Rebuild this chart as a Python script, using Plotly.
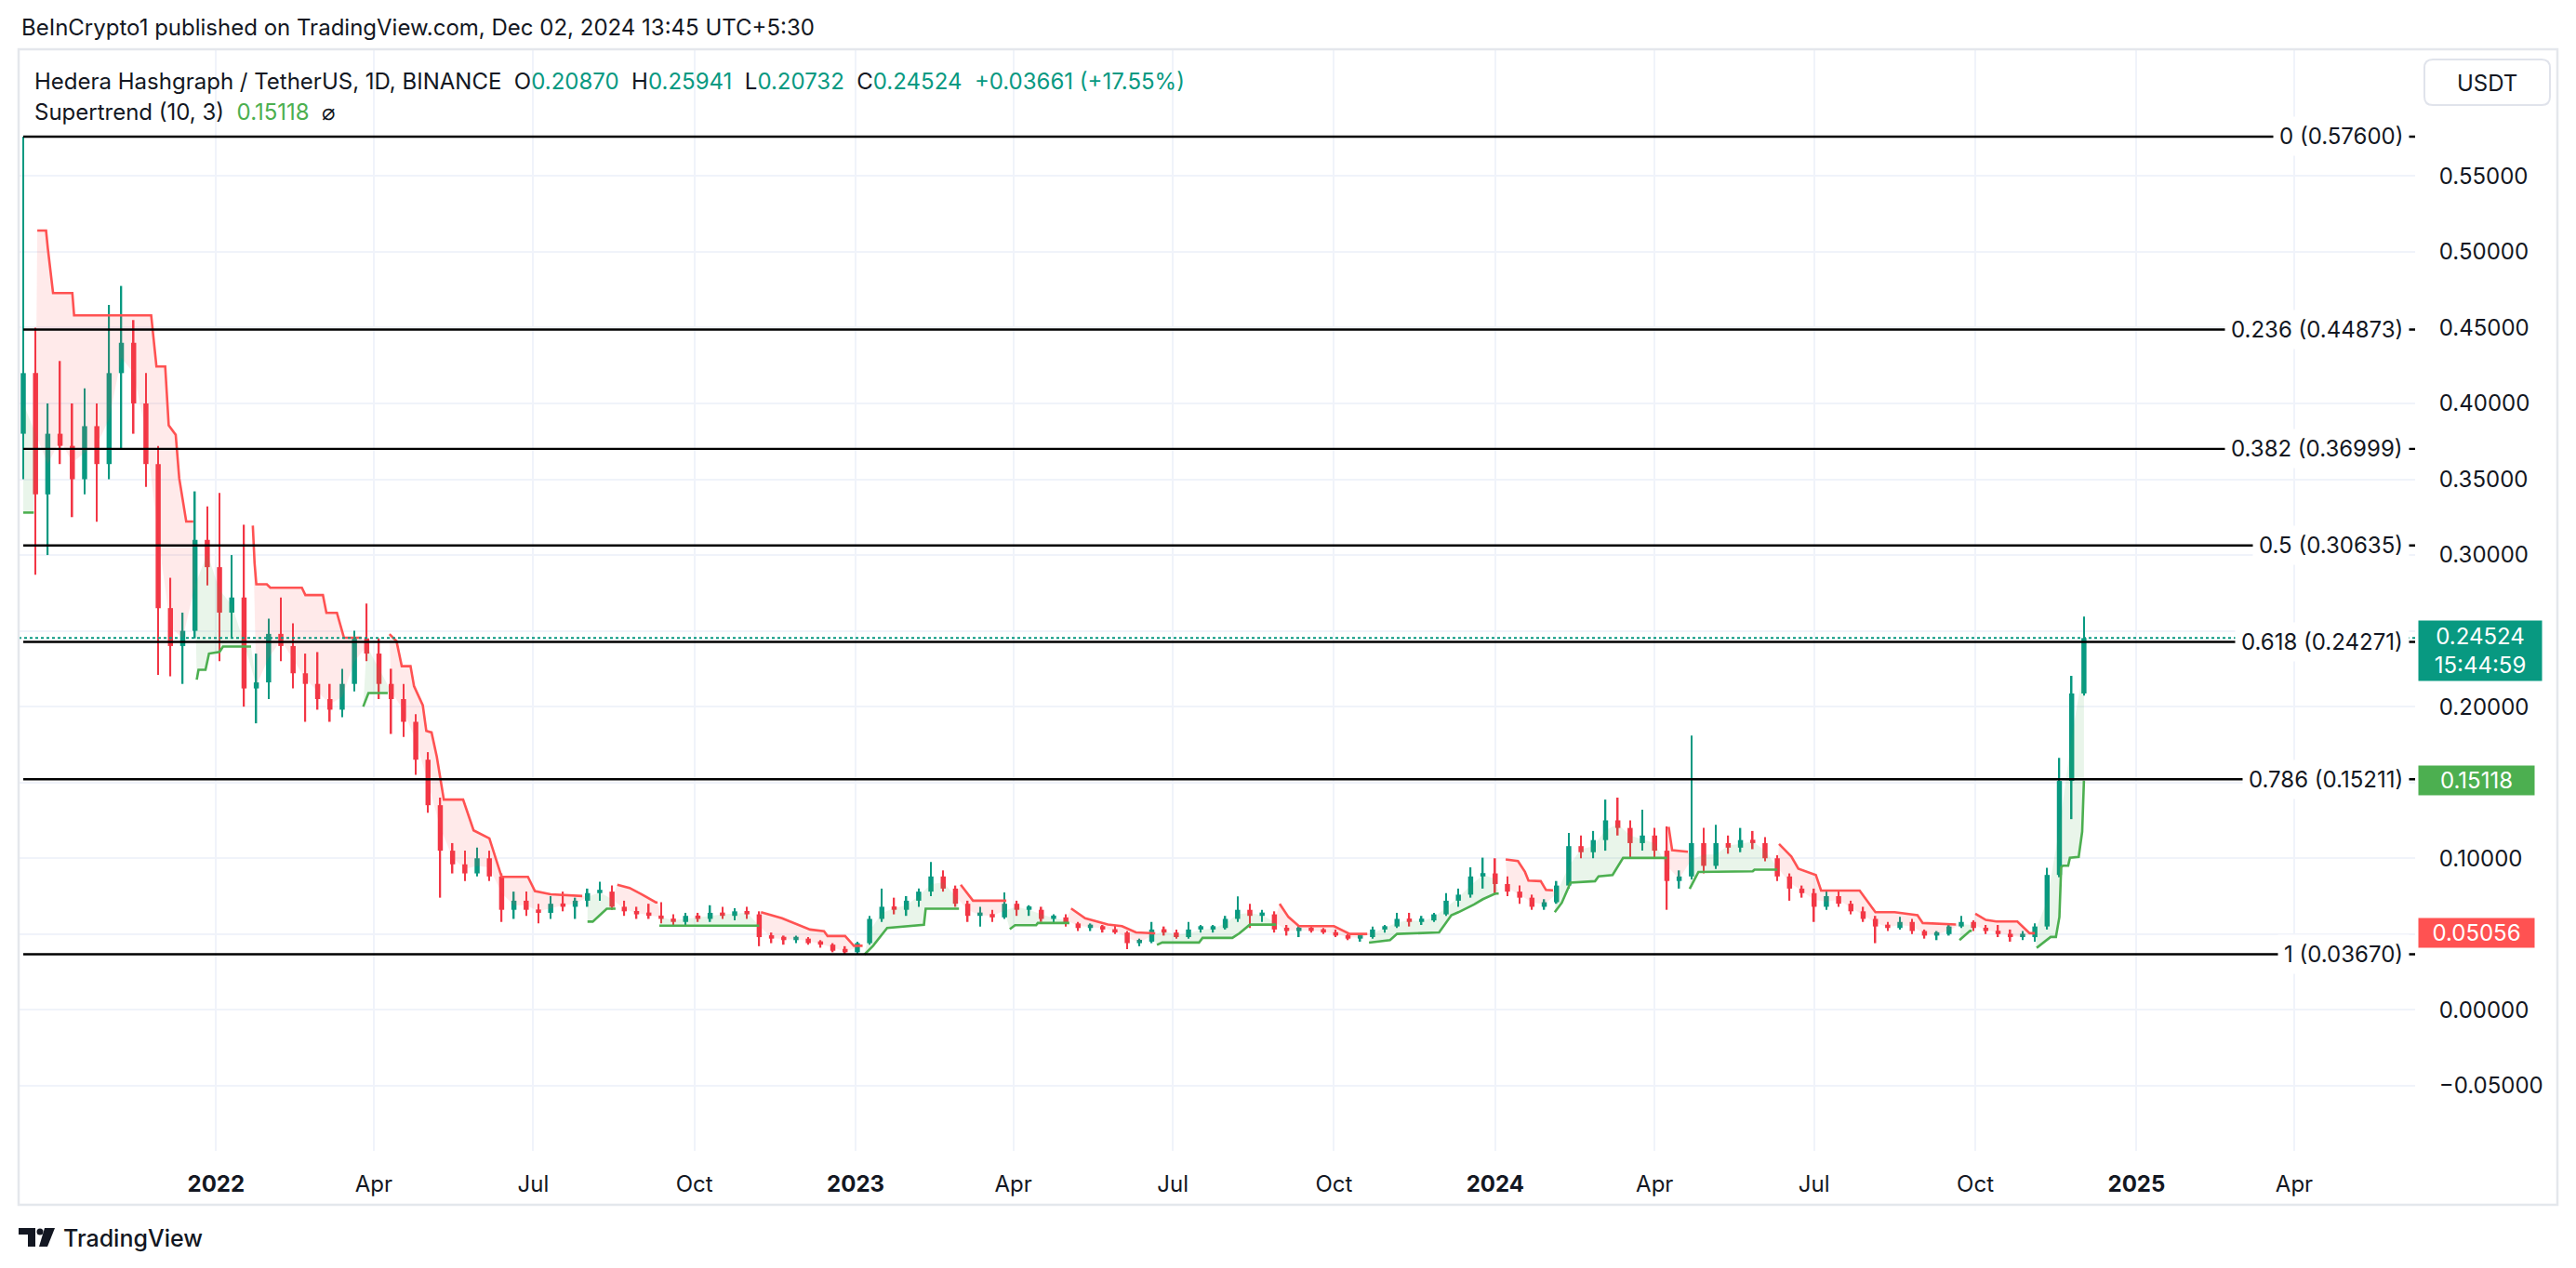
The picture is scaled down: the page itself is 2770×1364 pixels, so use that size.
import plotly.graph_objects as go
import pandas as pd
import numpy as np

# ---------------- data (weekly candles) ----------------
first_week = "2021-09-13"
opens = [0.380,0.420,0.340,0.380,0.372,0.350,0.385,0.360,0.420,0.440,0.400,0.360,0.265,0.240,0.250,0.310,
         0.292,0.262,0.272,0.212,0.216,0.248,0.240,0.222,0.215,0.205,0.198,0.215,0.245,0.235,0.215,0.205,
         0.190,0.165,0.135,0.105,0.096,0.090,0.100,0.088,0.066,0.072,0.066,0.064,0.070,0.068,0.072,0.077,
         0.078,0.068,0.065,0.063,0.062,0.060,0.058,0.062,0.060,0.064,0.062,0.065,0.063,0.048,0.047,0.046,
         0.047,0.044,0.043,0.039,0.038,0.044,0.060,0.068,0.066,0.072,0.078,0.088,0.080,0.070,0.062,0.063,
         0.061,0.070,0.066,0.066,0.060,0.061,0.057,0.054,0.055,0.053,0.051,0.044,0.045,0.053,0.051,0.048,
         0.053,0.053,0.054,0.060,0.066,0.062,0.063,0.053,0.052,0.053,0.052,0.051,0.049,0.047,0.048,0.053,
         0.055,0.060,0.058,0.059,0.063,0.072,0.076,0.088,0.090,0.083,0.078,0.074,0.068,0.071,0.082,0.108,
         0.104,0.112,0.125,0.120,0.110,0.115,0.105,0.085,0.088,0.110,0.095,0.110,0.107,0.112,0.110,0.100,
         0.088,0.080,0.077,0.068,0.075,0.070,0.065,0.060,0.055,0.054,0.058,0.052,0.049,0.050,0.055,0.058,
         0.054,0.052,0.050,0.048,0.048,0.055,0.089,0.151,0.20870]
highs = [0.576,0.450,0.400,0.428,0.400,0.410,0.400,0.465,0.4775,0.455,0.420,0.372,0.285,0.262,0.342,0.332,
         0.341,0.300,0.320,0.235,0.258,0.272,0.255,0.235,0.236,0.215,0.225,0.250,0.268,0.245,0.225,0.215,
         0.195,0.170,0.140,0.110,0.105,0.107,0.105,0.090,0.078,0.078,0.070,0.075,0.078,0.074,0.080,0.0845,
         0.082,0.072,0.068,0.070,0.071,0.063,0.064,0.064,0.069,0.068,0.067,0.068,0.065,0.051,0.049,0.049,
         0.048,0.046,0.044,0.042,0.045,0.062,0.080,0.074,0.075,0.080,0.0975,0.092,0.082,0.072,0.068,0.066,
         0.0775,0.072,0.069,0.068,0.063,0.063,0.058,0.057,0.056,0.056,0.052,0.047,0.058,0.055,0.053,0.058,
         0.056,0.056,0.062,0.0748,0.070,0.066,0.065,0.056,0.056,0.056,0.054,0.053,0.050,0.049,0.055,0.056,
         0.064,0.064,0.062,0.064,0.077,0.080,0.094,0.1004,0.100,0.088,0.082,0.076,0.073,0.085,0.1167,0.115,
         0.118,0.1387,0.140,0.125,0.132,0.120,0.121,0.092,0.181,0.120,0.122,0.115,0.120,0.118,0.114,0.102,
         0.090,0.082,0.080,0.079,0.079,0.072,0.068,0.062,0.058,0.0614,0.060,0.053,0.052,0.057,0.062,0.059,
         0.056,0.056,0.053,0.052,0.057,0.0937,0.1662,0.2203,0.25941]
lows = [0.350,0.287,0.300,0.360,0.325,0.340,0.322,0.350,0.370,0.380,0.345,0.221,0.220,0.215,0.245,0.280,
        0.230,0.245,0.200,0.189,0.205,0.230,0.212,0.190,0.198,0.190,0.193,0.210,0.230,0.205,0.182,0.180,
        0.155,0.130,0.074,0.090,0.085,0.088,0.085,0.058,0.060,0.062,0.057,0.060,0.065,0.060,0.068,0.072,
        0.066,0.062,0.060,0.060,0.057,0.056,0.056,0.058,0.058,0.060,0.059,0.060,0.042,0.044,0.043,0.044,
        0.043,0.041,0.038,0.0367,0.037,0.043,0.058,0.063,0.062,0.068,0.075,0.078,0.068,0.058,0.055,0.058,
        0.060,0.062,0.062,0.058,0.057,0.055,0.052,0.052,0.051,0.050,0.040,0.042,0.044,0.049,0.047,0.047,
        0.051,0.051,0.053,0.058,0.054,0.058,0.051,0.049,0.048,0.051,0.050,0.048,0.046,0.045,0.047,0.051,
        0.054,0.055,0.056,0.058,0.062,0.068,0.074,0.080,0.076,0.075,0.070,0.066,0.066,0.070,0.080,0.100,
        0.100,0.105,0.115,0.100,0.105,0.100,0.066,0.080,0.086,0.090,0.093,0.103,0.104,0.106,0.098,0.085,
        0.072,0.074,0.058,0.066,0.068,0.063,0.058,0.044,0.052,0.053,0.050,0.047,0.046,0.049,0.054,0.052,
        0.050,0.048,0.045,0.046,0.045,0.053,0.0875,0.1258,0.20732]
closes = [0.420,0.340,0.380,0.372,0.350,0.385,0.360,0.420,0.440,0.400,0.360,0.265,0.240,0.250,0.310,0.292,
          0.262,0.272,0.212,0.216,0.248,0.240,0.222,0.215,0.205,0.198,0.215,0.245,0.235,0.215,0.205,0.190,
          0.165,0.135,0.105,0.096,0.090,0.100,0.088,0.066,0.072,0.066,0.064,0.070,0.068,0.072,0.077,0.078,
          0.068,0.065,0.063,0.062,0.060,0.058,0.062,0.060,0.064,0.062,0.065,0.063,0.048,0.047,0.046,0.047,
          0.044,0.043,0.039,0.038,0.044,0.060,0.068,0.066,0.072,0.078,0.088,0.080,0.070,0.062,0.063,0.061,
          0.070,0.066,0.066,0.060,0.061,0.057,0.054,0.055,0.053,0.051,0.044,0.045,0.053,0.051,0.048,0.053,
          0.053,0.054,0.060,0.066,0.062,0.063,0.053,0.052,0.053,0.052,0.051,0.049,0.047,0.048,0.053,0.055,
          0.060,0.058,0.059,0.063,0.072,0.076,0.088,0.090,0.083,0.078,0.074,0.068,0.071,0.082,0.108,0.104,
          0.112,0.125,0.120,0.110,0.115,0.105,0.085,0.088,0.110,0.095,0.110,0.107,0.112,0.110,0.100,0.088,
          0.080,0.077,0.068,0.075,0.070,0.065,0.060,0.055,0.054,0.058,0.052,0.049,0.050,0.055,0.058,0.054,
          0.052,0.050,0.048,0.048,0.055,0.089,0.151,0.20870,0.24524]

# Supertrend (10, 3) line
st_dates = ["2021-09-13","2021-09-19",
  "2021-09-21","2021-09-26","2021-09-27","2021-09-30","2021-10-11","2021-10-12","2021-11-25","2021-11-28",
  "2021-12-03","2021-12-05","2021-12-09","2021-12-11","2021-12-15","2021-12-19",
  "2021-12-21","2021-12-22","2021-12-26","2021-12-28","2022-01-03","2022-01-05","2022-01-21",
  "2022-01-22","2022-01-23","2022-01-24","2022-01-30","2022-02-01","2022-02-19","2022-02-21","2022-03-03",
  "2022-03-05","2022-03-11","2022-03-15","2022-03-25",
  "2022-03-26","2022-03-29","2022-04-09",
  "2022-04-10","2022-04-14","2022-04-17","2022-04-22","2022-04-24","2022-04-29","2022-05-01","2022-05-04",
  "2022-05-07","2022-05-11","2022-05-22","2022-05-28","2022-06-06","2022-06-13","2022-06-28","2022-07-02",
  "2022-07-11","2022-07-29",
  "2022-08-01","2022-08-04","2022-08-12","2022-08-17",
  "2022-08-18","2022-08-25","2022-09-01","2022-09-09","2022-09-10",
  "2022-09-11","2022-11-07",
  "2022-11-08","2022-11-20","2022-12-06","2022-12-14","2022-12-16","2022-12-26","2022-12-31","2023-01-05",
  "2023-01-06","2023-01-11","2023-01-19","2023-02-09","2023-02-10","2023-03-01",
  "2023-03-02","2023-03-09","2023-03-28",
  "2023-03-30","2023-04-02","2023-04-14","2023-04-15","2023-05-03",
  "2023-05-04","2023-05-12","2023-05-25","2023-06-02","2023-06-10","2023-06-21",
  "2023-06-22","2023-06-25","2023-07-16","2023-07-18","2023-08-04","2023-08-08","2023-08-14","2023-08-29",
  "2023-08-31","2023-09-05","2023-09-11","2023-10-01","2023-10-10","2023-10-20",
  "2023-10-21","2023-11-02","2023-11-06","2023-11-30","2023-12-07","2023-12-11","2023-12-20","2023-12-25",
  "2024-01-01","2024-01-03",
  "2024-01-07","2024-01-14","2024-01-18","2024-01-20","2024-01-27","2024-01-30","2024-02-03",
  "2024-02-04","2024-02-08","2024-02-13","2024-02-27","2024-02-29","2024-03-08","2024-03-14","2024-04-08",
  "2024-04-09","2024-04-11","2024-04-20",
  "2024-04-21","2024-04-26","2024-05-27","2024-05-28","2024-06-10",
  "2024-06-11","2024-06-18","2024-06-22","2024-07-02","2024-07-05","2024-07-27","2024-08-05","2024-08-16",
  "2024-08-29","2024-09-01","2024-09-20",
  "2024-09-22","2024-09-28","2024-09-29",
  "2024-10-01","2024-10-07","2024-10-13","2024-10-25","2024-11-01","2024-11-04",
  "2024-11-05","2024-11-13","2024-11-16","2024-11-18","2024-11-19","2024-11-20","2024-11-23","2024-11-24",
  "2024-11-29","2024-12-01","2024-12-02"]
st_values = [0.328,0.328,
  0.514,0.514,0.5025,0.4728,0.4728,0.4581,0.4581,0.4244,
  0.4244,0.3855,0.3793,0.3507,0.3221,0.3221,
  0.2178,0.2243,0.2243,0.235,0.2361,0.2396,0.2396,
  0.3194,0.2948,0.2807,0.2807,0.2784,0.2784,0.2736,0.2736,
  0.2619,0.2619,0.2455,0.2455,
  0.200,0.209,0.209,
  0.2478,0.2432,0.2267,0.2267,0.2135,0.2009,0.184,0.183,
  0.167,0.1387,0.1387,0.1184,0.1131,0.0877,0.0877,0.0783,
  0.0762,0.0751,
  0.0582,0.0582,0.0667,0.0667,
  0.0825,0.0804,0.0762,0.0709,0.0709,
  0.0555,0.0555,
  0.0645,0.0604,0.0530,0.0519,0.0487,0.0487,0.0423,0.0423,
  0.0365,0.0423,0.0540,0.0561,0.0667,0.0667,
  0.0825,0.0720,0.0720,
  0.0532,0.0558,0.0558,0.0573,0.0573,
  0.0669,0.0604,0.0563,0.0552,0.0511,0.0505,
  0.0429,0.0444,0.0444,0.0475,0.0475,0.0505,0.0562,0.0562,
  0.0700,0.0613,0.0552,0.0552,0.0501,0.0501,
  0.0444,0.0460,0.0501,0.0511,0.0624,0.0644,0.0695,0.0730,
  0.0767,0.0767,
  0.0992,0.0982,0.0910,0.0853,0.0849,0.0791,0.0788,
  0.0644,0.0706,0.0839,0.0849,0.0880,0.0890,0.1002,0.1002,
  0.1207,0.1053,0.1043,
  0.0798,0.0910,0.0914,0.0925,0.0925,
  0.1094,0.1012,0.0931,0.0890,0.0787,0.0787,0.0644,0.0644,
  0.0624,0.0573,0.0563,
  0.0460,0.0521,0.0521,
  0.0634,0.0593,0.0583,0.0583,0.05056,0.05056,
  0.0409,0.0481,0.0481,0.0613,0.0941,0.0951,0.0951,0.1003,
  0.1009,0.1176,0.15118]
st_trend = (["up"]*2 + ["down"]*14 + ["up"]*7 + ["down"]*12 + ["up"]*3 + ["down"]*18 + ["up"]*4 +
            ["down"]*5 + ["up"]*2 + ["down"]*8 + ["up"]*6 + ["down"]*3 + ["up"]*5 + ["down"]*6 +
            ["up"]*8 + ["down"]*6 + ["up"]*10 + ["down"]*7 + ["up"]*8 + ["down"]*3 + ["up"]*5 +
            ["down"]*11 + ["up"]*3 + ["down"]*6 + ["up"]*11)

fib_ratios = [0, 0.236, 0.382, 0.5, 0.618, 0.786, 1]
fib_prices = [0.57600, 0.44873, 0.36999, 0.30635, 0.24271, 0.15211, 0.03670]

tick_dates = ["2022-01-01","2022-04-01","2022-07-01","2022-10-01","2023-01-01","2023-04-01","2023-07-01",
              "2023-10-01","2024-01-01","2024-04-01","2024-07-01","2024-10-01","2025-01-01","2025-04-01"]
tick_labels = ["<b>2022</b>","Apr","Jul","Oct","<b>2023</b>","Apr","Jul","Oct","<b>2024</b>","Apr","Jul","Oct",
               "<b>2025</b>","Apr"]
price_ticks = [-0.05,0.0,0.05,0.10,0.15,0.20,0.25,0.30,0.35,0.40,0.45,0.50,0.55]
hidden_price_ticks = [0.05, 0.15, 0.25]
st_down_last = 0.05056
change_abs, change_pct = 0.03661, 17.55
countdown = "15:44:59"

# ---------------- styling ----------------
UP, DN = "#089981", "#F23645"
ST_UP, ST_DN = "#4CAF50", "#FF5252"
TXT = "#131722"
GRID = "#f0f3fa"
FONT = "Inter"
FS = 24
W, H = 2770, 1364
PL, PR, PT, PB = 20, 2597, 53, 1238
X_RANGE = ["2021-09-10 08:00", "2025-06-09"]
Y_RANGE = [-0.093, 0.6336]

def px(x):
    return (x - PL) / (PR - PL)

def py(y):
    return (PB - y) / (PB - PT)

dates = pd.date_range(first_week, periods=len(closes), freq="7D")
o = np.array(opens); h = np.array(highs); l = np.array(lows); c = np.array(closes)
colors = [UP if cc >= oo else DN for oo, cc in zip(o, c)]
DAY = 86400000

fig = go.Figure()

# Supertrend fills + lines
segs = []
for d, v, t in zip(st_dates, st_values, st_trend):
    if not segs or segs[-1]["t"] != t:
        segs.append({"t": t, "d": [], "v": []})
    segs[-1]["d"].append(pd.Timestamp(d))
    segs[-1]["v"].append(v)

for s in segs:
    lo = s["d"][0] - pd.Timedelta(days=3)
    hi = s["d"][-1] + pd.Timedelta(days=3)
    idx = [i for i, d in enumerate(dates) if lo <= d <= hi]
    lc = ST_UP if s["t"] == "up" else ST_DN
    fc = "rgba(76,175,80,0.12)" if s["t"] == "up" else "rgba(255,82,82,0.12)"
    if idx:
        fig.add_trace(go.Scatter(x=[dates[i] for i in idx], y=[(o[i] + c[i]) / 2 for i in idx],
                                 mode="lines", line=dict(width=0, color="rgba(0,0,0,0)"),
                                 hoverinfo="skip", showlegend=False))
        fig.add_trace(go.Scatter(x=s["d"], y=s["v"], mode="lines", line=dict(color=lc, width=2.6),
                                 fill="tonexty", fillcolor=fc, hoverinfo="skip", showlegend=False))
    else:
        fig.add_trace(go.Scatter(x=s["d"], y=s["v"], mode="lines", line=dict(color=lc, width=2.6),
                                 hoverinfo="skip", showlegend=False))

# candles: wicks and bodies
fig.add_trace(go.Bar(x=dates, y=h - l, base=l, width=0.85 * DAY, marker=dict(color=colors, line=dict(width=0)),
                     hoverinfo="skip", showlegend=False))
fig.add_trace(go.Bar(x=dates, y=np.maximum(np.abs(c - o), 0.0022), base=np.minimum(o, c), width=2.9 * DAY,
                     marker=dict(color=colors, line=dict(width=0)), hoverinfo="skip", showlegend=False))

shapes = []
annotations = []

# fib levels
for r, p in zip(fib_ratios, fib_prices):
    shapes.append(dict(type="line", xref="x", yref="y", x0=dates[0], x1=X_RANGE[1], y0=p, y1=p,
                       line=dict(color="#000000", width=2.4), layer="above"))
    annotations.append(dict(xref="paper", yref="y", x=px(2591), y=p, xanchor="right", yanchor="middle",
                            text=f"{r:g} ({p:.5f})", showarrow=False, bgcolor="#ffffff", borderpad=6,
                            font=dict(family=FONT, size=FS, color=TXT)))

# current price dotted line
shapes.append(dict(type="line", xref="x", yref="y", x0=X_RANGE[0], x1=X_RANGE[1], y0=c[-1], y1=c[-1],
                   line=dict(color=UP, width=2, dash="dot"), layer="above"))

# pane border
shapes.append(dict(type="rect", xref="paper", yref="paper", x0=px(20), x1=px(2750), y0=py(1296), y1=py(53),
                   line=dict(color="#e4e7ec", width=2.5), fillcolor="rgba(0,0,0,0)", layer="above"))

# rounded USDT box
def rounded_path(x0, y0, x1, y1, r):
    P = lambda x, y: f"{px(x):.6f},{py(y):.6f}"
    return (f"M {P(x0 + r, y0)} L {P(x1 - r, y0)} Q {P(x1, y0)} {P(x1, y0 + r)} L {P(x1, y1 - r)} "
            f"Q {P(x1, y1)} {P(x1 - r, y1)} L {P(x0 + r, y1)} Q {P(x0, y1)} {P(x0, y1 - r)} "
            f"L {P(x0, y0 + r)} Q {P(x0, y0)} {P(x0 + r, y0)} Z")

shapes.append(dict(type="path", xref="paper", yref="paper", path=rounded_path(2607, 64, 2742, 113, 9),
                   line=dict(color="#e0e3eb", width=2), fillcolor="#ffffff", layer="above"))
annotations.append(dict(xref="paper", yref="paper", x=px(2674.5), y=py(89), text="USDT", showarrow=False,
                        xanchor="center", yanchor="middle", font=dict(family=FONT, size=FS, color=TXT)))

# TradingView logo
shapes.append(dict(type="rect", xref="paper", yref="paper", x0=px(20), x1=px(38), y0=py(1328), y1=py(1321),
                   fillcolor=TXT, line=dict(width=0)))
shapes.append(dict(type="rect", xref="paper", yref="paper", x0=px(30), x1=px(38), y0=py(1341), y1=py(1321),
                   fillcolor=TXT, line=dict(width=0)))
shapes.append(dict(type="circle", xref="paper", yref="paper", x0=px(39.5), x1=px(46.5), y0=py(1328.5),
                   y1=py(1321.5), fillcolor=TXT, line=dict(width=0)))
shapes.append(dict(type="path", xref="paper", yref="paper",
                   path=f"M {px(48)},{py(1321)} L {px(59)},{py(1321)} L {px(51)},{py(1341)} L {px(42)},{py(1341)} Z",
                   fillcolor=TXT, line=dict(width=0)))
annotations.append(dict(xref="paper", yref="paper", x=px(66), y=py(1332), xanchor="left", yanchor="middle",
                        text="TradingView", showarrow=False,
                        font=dict(family=FONT, size=25, color=TXT, weight=500)))

# header texts
annotations.append(dict(xref="paper", yref="paper", x=px(21), y=py(30), xanchor="left", yanchor="middle",
                        text="BeInCrypto1 published on TradingView.com, Dec 02, 2024 13:45 UTC+5:30",
                        showarrow=False, font=dict(family=FONT, size=FS, color=TXT)))
nb = "\u00a0"
def val(v):
    return f"<span style='color:{UP}'>{v:.5f}</span>"
legend1 = (f"Hedera Hashgraph / TetherUS, 1D, BINANCE{nb}{nb}O{val(o[-1])}{nb}{nb}H{val(h[-1])}"
           f"{nb}{nb}L{val(l[-1])}{nb}{nb}C{val(c[-1])}{nb}{nb}"
           f"<span style='color:{UP}'>+{change_abs:.5f} (+{change_pct:.2f}%)</span>")
annotations.append(dict(xref="paper", yref="paper", x=px(35), y=py(88), xanchor="left", yanchor="middle",
                        text=legend1, showarrow=False, font=dict(family=FONT, size=FS, color=TXT)))
legend2 = f"Supertrend (10, 3){nb}{nb}<span style='color:{ST_UP}'>{st_values[-1]:.5f}</span>{nb}{nb}⌀"
annotations.append(dict(xref="paper", yref="paper", x=px(35), y=py(120), xanchor="left", yanchor="middle",
                        text=legend2, showarrow=False, font=dict(family=FONT, size=FS, color=TXT)))

# price badges on the axis
annotations.append(dict(xref="paper", yref="y", x=px(2600), y=c[-1], xanchor="left", yanchor="middle",
                        yshift=-14, text=f"{c[-1]:.5f}<br>{countdown}", showarrow=False, bgcolor=UP,
                        borderpad=2, width=128, align="center",
                        font=dict(family=FONT, size=FS, color="#ffffff")))
annotations.append(dict(xref="paper", yref="y", x=px(2600), y=st_values[-1], xanchor="left", yanchor="middle",
                        text=f"{st_values[-1]:.5f}", showarrow=False, bgcolor=ST_UP, borderpad=1, width=122,
                        align="center", font=dict(family=FONT, size=FS, color="#ffffff")))
annotations.append(dict(xref="paper", yref="y", x=px(2600), y=st_down_last, xanchor="left", yanchor="middle",
                        text=f"{st_down_last:.5f}", showarrow=False, bgcolor=ST_DN, borderpad=1, width=122,
                        align="center", font=dict(family=FONT, size=FS, color="#ffffff")))

price_text = ["" if any(abs(v - hv) < 1e-9 for hv in hidden_price_ticks) else f"{v:.5f}".replace("-", "\u2212")
              for v in price_ticks]

fig.update_layout(
    width=W, height=H,
    margin=dict(l=PL, r=W - PR, t=PT, b=H - PB),
    paper_bgcolor="#ffffff", plot_bgcolor="#ffffff",
    barmode="overlay", showlegend=False,
    shapes=shapes, annotations=annotations,
    font=dict(family=FONT, size=FS, color=TXT),
    xaxis=dict(type="date", range=X_RANGE, tickvals=tick_dates, ticktext=tick_labels,
               showgrid=True, gridcolor=GRID, gridwidth=1.5, zeroline=False, showline=False,
               ticks="outside", ticklen=14, tickcolor="rgba(0,0,0,0)",
               tickfont=dict(family=FONT, size=FS, color=TXT), fixedrange=True),
    yaxis=dict(side="right", range=Y_RANGE, tickvals=price_ticks, ticktext=price_text,
               showgrid=True, gridcolor=GRID, gridwidth=1.5, zeroline=False, showline=False,
               ticks="outside", ticklen=20, tickcolor="rgba(0,0,0,0)",
               tickfont=dict(family=FONT, size=FS, color=TXT), fixedrange=True),
)

fig.write_html("out.html", include_plotlyjs=True, config={"displayModeBar": False})
with open("out.html", "r", encoding="utf-8") as f:
    html = f.read()
html = html.replace("<body>", "<body style=\"margin:0;padding:0;overflow:hidden;\">", 1)
with open("out.html", "w", encoding="utf-8") as f:
    f.write(html)
